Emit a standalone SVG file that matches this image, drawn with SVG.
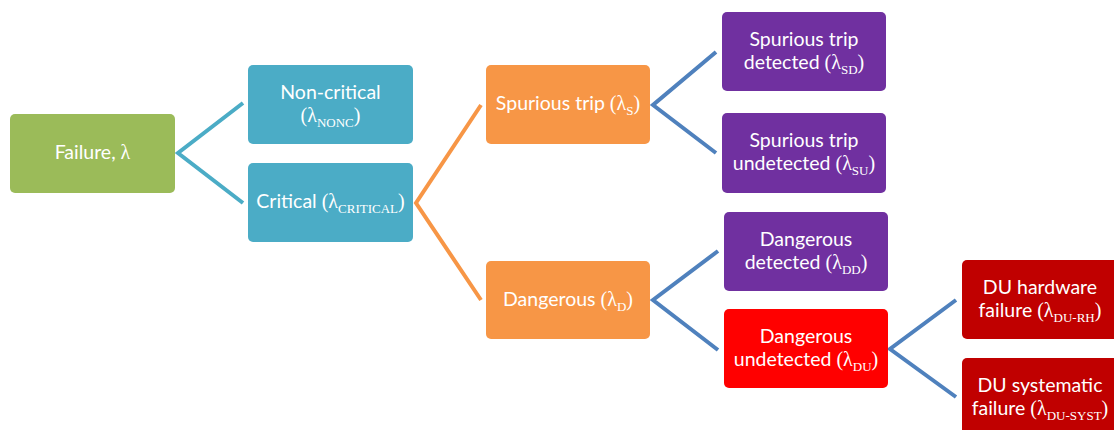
<svg xmlns="http://www.w3.org/2000/svg" width="1114" height="430" viewBox="0 0 1114 430">
  <style>
    .box { stroke: none; }
    .lbl { font-family: Lato, "Open Sans", "Liberation Sans", sans-serif; font-size: 19.5px; font-weight: 400; fill: #ffffff; text-anchor: middle; }
    .sym { font-family: "Liberation Serif", serif; font-size: 20px; }
    .sub { font-family: "Liberation Serif", serif; font-size: 13px; }
    .link { fill: none; stroke-width: 4; stroke-linejoin: miter; }
  </style>

  <!-- tree branches -->
  <g id="connectors">
    <polyline class="link" stroke="#4BACC6" points="243,103 178,153 243,203"/>
    <polyline class="link" stroke="#F79646" points="481,105 416,203 481,300"/>
    <polyline class="link" stroke="#4F81BD" points="716,52 653,105 716,153"/>
    <polyline class="link" stroke="#4F81BD" points="718,251 653,300 718,350"/>
    <polyline class="link" stroke="#4F81BD" points="956,300 890,349 956,397"/>
  </g>

  <g id="failure">
    <rect class="box" x="10" y="114" width="165" height="79" rx="5" fill="#9BBB59"/>
    <text class="lbl" x="92.5" y="159">Failure, <tspan class="sym">λ</tspan></text>
  </g>

  <g id="non-critical">
    <rect class="box" x="248" y="65" width="165" height="79" rx="5" fill="#4BACC6"/>
    <text class="lbl" x="330.5" y="99">Non-critical</text>
    <text class="lbl" x="330.5" y="122"><tspan class="sym">(λ</tspan><tspan class="sub" dy="5">NONC</tspan><tspan class="sym" dy="-5">)</tspan></text>
  </g>

  <g id="critical">
    <rect class="box" x="248" y="163" width="165" height="79" rx="5" fill="#4BACC6"/>
    <text class="lbl" x="330.5" y="208">Critical <tspan class="sym">(λ</tspan><tspan class="sub" dy="5">CRITICAL</tspan><tspan class="sym" dy="-5">)</tspan></text>
  </g>

  <g id="spurious-trip">
    <rect class="box" x="486" y="65" width="164" height="79" rx="5" fill="#F79646"/>
    <text class="lbl" x="568" y="110">Spurious trip <tspan class="sym">(λ</tspan><tspan class="sub" dy="5">S</tspan><tspan class="sym" dy="-5">)</tspan></text>
  </g>

  <g id="dangerous">
    <rect class="box" x="486" y="261" width="164" height="78" rx="5" fill="#F79646"/>
    <text class="lbl" x="568" y="306">Dangerous <tspan class="sym">(λ</tspan><tspan class="sub" dy="5">D</tspan><tspan class="sym" dy="-5">)</tspan></text>
  </g>

  <g id="spurious-detected">
    <rect class="box" x="722" y="12" width="164" height="79" rx="5" fill="#7030A0"/>
    <text class="lbl" x="804" y="46">Spurious trip</text>
    <text class="lbl" x="804" y="69">detected <tspan class="sym">(λ</tspan><tspan class="sub" dy="5">SD</tspan><tspan class="sym" dy="-5">)</tspan></text>
  </g>

  <g id="spurious-undetected">
    <rect class="box" x="722" y="113" width="164" height="80" rx="5" fill="#7030A0"/>
    <text class="lbl" x="804" y="147">Spurious trip</text>
    <text class="lbl" x="804" y="170">undetected <tspan class="sym">(λ</tspan><tspan class="sub" dy="5">SU</tspan><tspan class="sym" dy="-5">)</tspan></text>
  </g>

  <g id="dangerous-detected">
    <rect class="box" x="724" y="212" width="164" height="79" rx="5" fill="#7030A0"/>
    <text class="lbl" x="806" y="246">Dangerous</text>
    <text class="lbl" x="806" y="269">detected <tspan class="sym">(λ</tspan><tspan class="sub" dy="5">DD</tspan><tspan class="sym" dy="-5">)</tspan></text>
  </g>

  <g id="dangerous-undetected">
    <rect class="box" x="724" y="309" width="164" height="79" rx="5" fill="#FF0000"/>
    <text class="lbl" x="806" y="343">Dangerous</text>
    <text class="lbl" x="806" y="366">undetected <tspan class="sym">(λ</tspan><tspan class="sub" dy="5">DU</tspan><tspan class="sym" dy="-5">)</tspan></text>
  </g>

  <g id="du-hardware">
    <rect class="box" x="962" y="260" width="164" height="79" rx="5" fill="#C00000"/>
    <text class="lbl" x="1040" y="294">DU hardware</text>
    <text class="lbl" x="1040" y="317">failure <tspan class="sym">(λ</tspan><tspan class="sub" dy="5">DU-RH</tspan><tspan class="sym" dy="-5">)</tspan></text>
  </g>

  <g id="du-systematic">
    <rect class="box" x="962" y="358" width="164" height="79" rx="5" fill="#C00000"/>
    <text class="lbl" x="1040" y="392">DU systematic</text>
    <text class="lbl" x="1040" y="415">failure <tspan class="sym">(λ</tspan><tspan class="sub" dy="5">DU-SYST</tspan><tspan class="sym" dy="-5">)</tspan></text>
  </g>
</svg>
